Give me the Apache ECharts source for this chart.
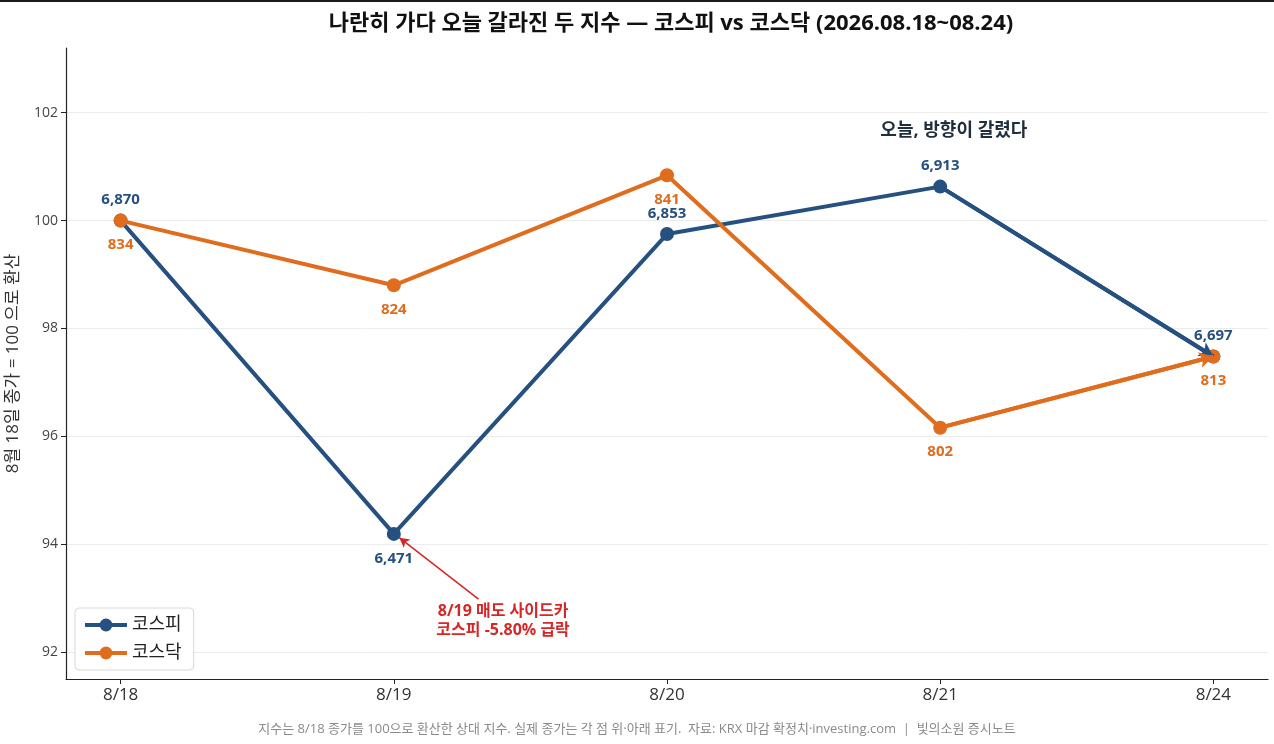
<!DOCTYPE html>
<html>
<head>
<meta charset="utf-8">
<script src="https://cdn.jsdelivr.net/npm/echarts@6/dist/echarts.min.js"></script>
<style>
  html, body { margin: 0; padding: 0; background: #fff; }
  #topbar { height: 2px; background: #1a1a1a; }
  #chart { width: 1274px; height: 742px; }
</style>
</head>
<body>
<div id="topbar"></div>
<div id="chart"></div>
<script>
// 날짜 & 종가 (8/18 = 100 기준 환산)
const dates = ["8/18", "8/19", "8/20", "8/21", "8/24"];
const kospiClose = [6870, 6471, 6853, 6913, 6697];
const kosdaqClose = [834, 824, 841, 802, 813];
const yTicks = [92, 94, 96, 98, 100, 102];

const BLUE = "#26507f";
const ORANGE = "#e06c1e";
const RED = "#d62728";
const FONT = "'Open Sans', 'Noto Sans CJK KR', sans-serif";

const toIndex = (arr) => arr.map((v) => +(v / arr[0] * 100).toFixed(2));
const kospiIdx = toIndex(kospiClose);
const kosdaqIdx = toIndex(kosdaqClose);

// label placement per point
const kospiPos = ["top", "bottom", "top", "top", "top"];
const kosdaqPos = ["bottom", "bottom", "bottom", "bottom", "bottom"];

const buildData = (idx, close, pos, color) =>
  idx.map((v, i) => ({
    value: [i, v],
    label: {
      show: true,
      position: pos[i],
      distance: pos[i] === "top" ? 6 : 10,
      formatter: close[i].toLocaleString("en-US"),
      color: color,
      fontWeight: "bold",
      fontSize: 15,
      fontFamily: FONT,
    },
  }));

const lastArrow = (idx, color) => ({
  silent: true,
  symbol: ["none", "arrow"],
  symbolSize: [12, 14],
  label: { show: false },
  lineStyle: { color: color, width: 4, type: "solid" },
  emphasis: { disabled: true },
  data: [[{ coord: [3, idx[3]] }, { coord: [4, idx[4]] }]],
});

const chart = echarts.init(document.getElementById("chart"));

const option = {
  animation: false,
  title: {
    text: "나란히 가다 오늘 갈라진 두 지수 — 코스피 vs 코스닥 (2026.08.18~08.24)",
    left: 666,
    textAlign: "center",
    top: 6,
    textStyle: { fontSize: 22, fontWeight: "bold", color: "#111", fontFamily: FONT },
  },
  grid: { left: 66, right: 6, top: 46, bottom: 65, outerBoundsMode: "none" },
  legend: {
    left: 75,
    bottom: 74,
    orient: "vertical",
    itemWidth: 42,
    itemHeight: 16,
    itemGap: 10,
    padding: [8, 12, 8, 8],
    borderColor: "#d8d8d8",
    borderWidth: 1,
    borderRadius: 4,
    backgroundColor: "#fff",
    lineStyle: { width: 4 },
    textStyle: { fontSize: 18, color: "#222", fontFamily: FONT },
    data: ["코스피", "코스닥"],
  },
  xAxis: {
    type: "value",
    min: -0.2,
    max: 4.2,
    axisLine: { show: true, onZero: false, lineStyle: { color: "#222", width: 1.2 } },
    axisTick: { show: true, customValues: [0, 1, 2, 3, 4], length: 5, lineStyle: { color: "#222" } },
    axisLabel: {
      customValues: [0, 1, 2, 3, 4],
      formatter: (v) => dates[Math.round(v)],
      fontSize: 17,
      color: "#333",
      margin: 8,
      fontFamily: FONT,
    },
    splitLine: { show: false },
  },
  yAxis: {
    type: "value",
    min: 91.5,
    max: 103.2,
    name: "8월 18일 종가 = 100 으로 환산",
    nameLocation: "middle",
    nameGap: 44,
    nameTextStyle: { fontSize: 17, color: "#333", fontFamily: FONT },
    axisLine: { show: true, onZero: false, lineStyle: { color: "#222", width: 1.2 } },
    axisTick: { show: true, customValues: yTicks, length: 5, lineStyle: { color: "#222" } },
    axisLabel: { customValues: yTicks, fontSize: 14, color: "#444", margin: 8, fontFamily: FONT },
    splitLine: { show: true, lineStyle: { color: "#ececec", width: 1 } },
  },
  series: [
    {
      name: "코스피",
      type: "line",
      data: buildData(kospiIdx, kospiClose, kospiPos, BLUE),
      symbol: "circle",
      symbolSize: 14,
      color: BLUE,
      lineStyle: { width: 4, color: BLUE },
      itemStyle: { color: BLUE },
      markLine: lastArrow(kospiIdx, BLUE),
      markPoint: {
        symbol: "circle",
        symbolSize: 0,
        silent: true,
        data: [
          {
            coord: [3.05, 101.66],
            label: {
              show: true,
              formatter: "오늘, 방향이 갈렸다",
              color: "#1f2d3d",
              fontSize: 18,
              fontWeight: "bold",
              fontFamily: FONT,
            },
          },
          {
            coord: [1.4, 92.58],
            label: {
              show: true,
              formatter: "8/19 매도 사이드카\n코스피 -5.80% 급락",
              color: RED,
              fontSize: 16,
              lineHeight: 19,
              fontWeight: "bold",
              align: "center",
              fontFamily: FONT,
            },
          },
        ],
      },
      z: 2,
    },
    {
      name: "코스닥",
      type: "line",
      data: buildData(kosdaqIdx, kosdaqClose, kosdaqPos, ORANGE),
      symbol: "circle",
      symbolSize: 14,
      color: ORANGE,
      lineStyle: { width: 4, color: ORANGE },
      itemStyle: { color: ORANGE },
      markLine: lastArrow(kosdaqIdx, ORANGE),
      z: 3,
    },
    {
      // 8/19 주석 화살표
      name: "annot",
      type: "line",
      data: [],
      silent: true,
      markLine: {
        silent: true,
        symbol: ["none", "arrow"],
        symbolSize: [8, 10],
        label: { show: false },
        lineStyle: { color: RED, width: 1.6, type: "solid" },
        data: [[{ coord: [1.31, 92.98] }, { coord: [1.02, 94.12] }]],
      },
    },
  ],
  graphic: [
    {
      type: "text",
      left: "center",
      top: 721,
      style: {
        text: "지수는 8/18 종가를 100으로 환산한 상대 지수. 실제 종가는 각 점 위·아래 표기.  자료: KRX 마감 확정치·investing.com  |  빛의소원 증시노트",
        fill: "#8a8a8a",
        fontSize: 13,
        fontFamily: FONT,
      },
    },
  ],
};

chart.setOption(option);
</script>
</body>
</html>
